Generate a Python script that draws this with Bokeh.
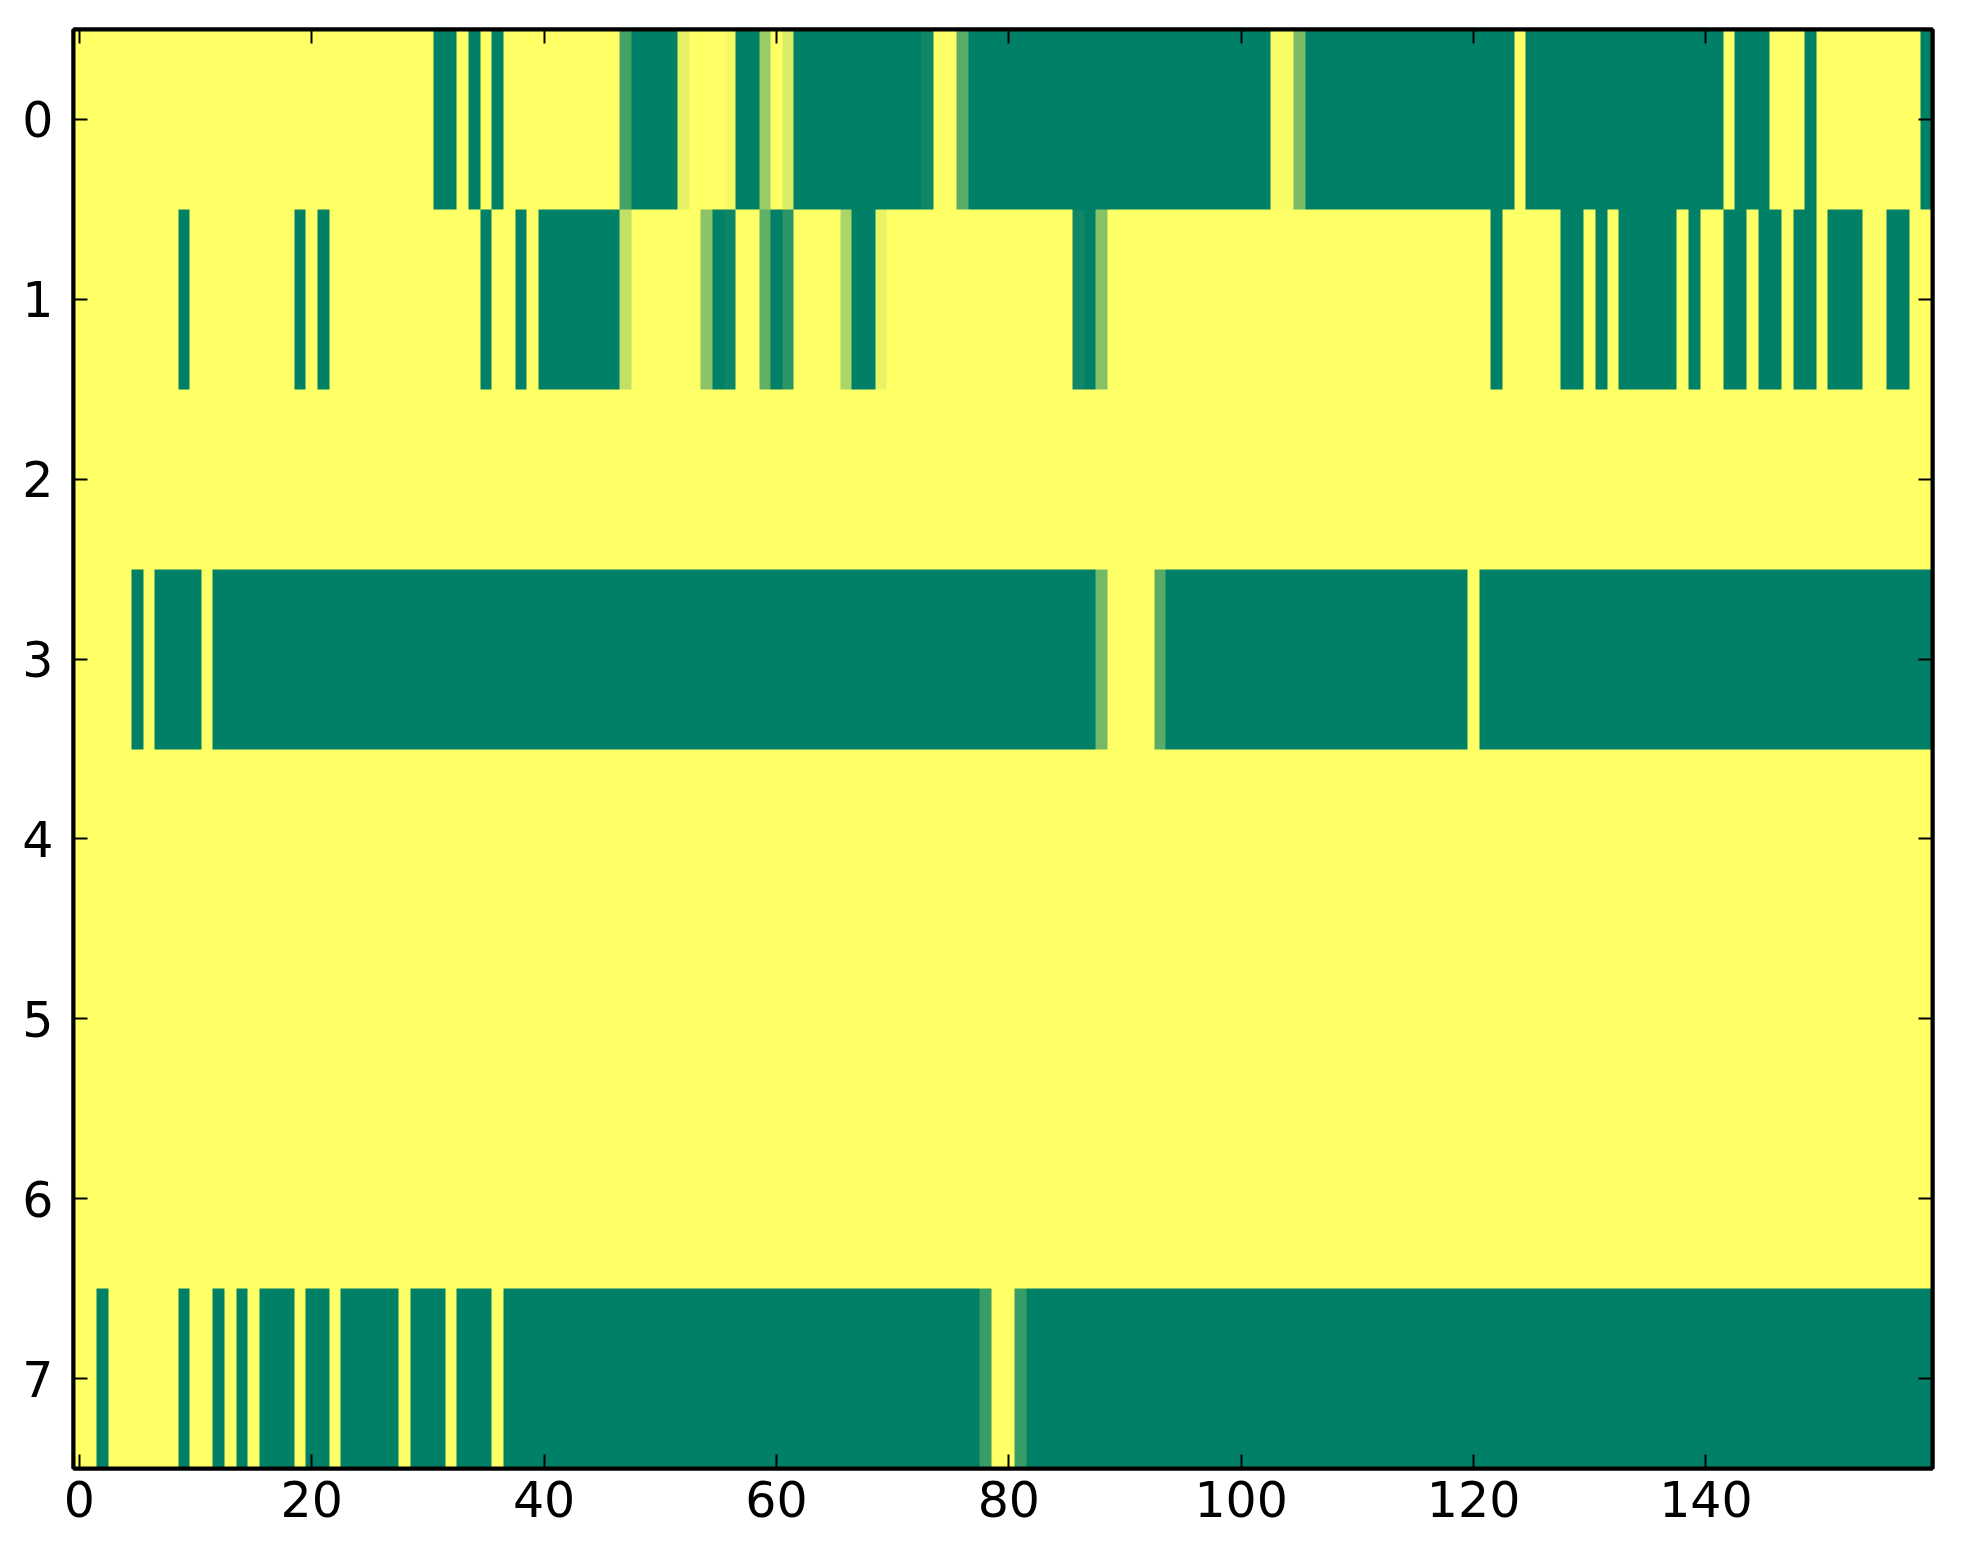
import numpy as np
from bokeh.plotting import figure
from bokeh.models import Range1d, LinearColorMapper, LinearAxis, FixedTicker
from bokeh.embed import file_html
from bokeh.resources import INLINE

# ---------------- data (run-length encoded per row) ----------------
n_cols = 160
row_ticks = [0, 1, 2, 3, 4, 5, 6, 7]
x_ticks = [0, 20, 40, 60, 80, 100, 120, 140]

row0_values = [1, 0, 1, 0, 1, 0, 1, 0.27, 0, 0.9, 1, 0.96, 0, 0.6, 1, 0.85, 0, 0.06, 1, 0.35,
               0, 0.97, 0.47, 0, 1, 0, 1, 0, 1, 0, 1, 0]
row0_runs = [31, 2, 1, 1, 1, 1, 10, 1, 4, 1, 3, 1, 2, 1, 1, 1, 11, 1, 2, 1,
             26, 2, 1, 18, 1, 17, 1, 3, 3, 1, 9, 1]

row1_values = [1, 0, 1, 0, 1, 0, 1, 0, 1, 0, 1, 0, 0.75, 1, 0.54, 0, 0.05, 1, 0.38, 0,
               0.17, 1, 0.67, 0, 0.91, 1, 0.06, 0, 0.53, 1, 0, 1, 0, 1, 0, 1, 0, 1, 0, 1,
               0, 1, 0, 1, 0, 1, 0, 1, 0, 1]
row1_runs = [9, 1, 9, 1, 1, 1, 13, 1, 2, 1, 1, 7, 1, 6, 1, 1, 1, 2, 1, 1,
             1, 4, 1, 2, 1, 16, 1, 1, 1, 33, 1, 5, 2, 1, 1, 1, 5, 1, 1, 2,
             2, 1, 2, 1, 2, 1, 3, 2, 2, 2]

row2_values = [1]
row2_runs = [160]

row3_values = [1, 0, 1, 0, 1, 0, 0.45, 1, 0.35, 0, 1, 0]
row3_runs = [5, 1, 1, 4, 1, 76, 1, 4, 1, 26, 1, 39]

row4_values = [1]
row4_runs = [160]
row5_values = [1]
row5_runs = [160]
row6_values = [1]
row6_runs = [160]

row7_values = [1, 0, 1, 0, 1, 0, 1, 0, 1, 0, 1, 0, 1, 0, 1, 0, 1, 0, 1, 0, 0.22, 1, 0.22, 0]
row7_runs = [2, 1, 6, 1, 2, 1, 1, 1, 1, 3, 1, 2, 1, 5, 1, 3, 1, 3, 1, 41, 1, 2, 1, 78]

rows = [(row0_values, row0_runs), (row1_values, row1_runs), (row2_values, row2_runs),
        (row3_values, row3_runs), (row4_values, row4_runs), (row5_values, row5_runs),
        (row6_values, row6_runs), (row7_values, row7_runs)]

grid = np.vstack([np.repeat(np.array(v, dtype=float), np.array(r)) for v, r in rows])

# matplotlib "summer" colormap
palette = ["#%02x%02x%02x" % (int(round(255 * t)), int(round(255 * (0.5 + 0.5 * t))), 102)
           for t in np.linspace(0, 1, 256)]
mapper = LinearColorMapper(palette=palette, low=0, high=1)

FONT = "DejaVu Sans"
FSIZE = "49px"

p = figure(width=1955, height=1556,
           x_range=Range1d(-0.5, n_cols - 0.5), y_range=Range1d(len(rows) - 0.5, -0.5),
           output_backend="svg", toolbar_location=None,
           min_border_left=73, min_border_top=29, min_border_right=23, min_border_bottom=88)
p.image(image=[grid], x=-0.5, y=-0.5, dw=n_cols, dh=len(rows), color_mapper=mapper)

p.xgrid.visible = False
p.ygrid.visible = False
p.background_fill_color = "white"
p.border_fill_color = "white"
p.outline_line_color = "black"
p.outline_line_width = 4

p.xaxis.ticker = FixedTicker(ticks=x_ticks)
p.yaxis.ticker = FixedTicker(ticks=row_ticks)

right_axis = LinearAxis(ticker=FixedTicker(ticks=row_ticks),
                        major_label_overrides={t: "" for t in row_ticks})
top_axis = LinearAxis(ticker=FixedTicker(ticks=x_ticks),
                      major_label_overrides={t: "" for t in x_ticks})
p.add_layout(right_axis, "right")
p.add_layout(top_axis, "above")

for ax in p.axis:
    ax.axis_line_color = "black"
    ax.axis_line_width = 4
    ax.major_tick_in = 14
    ax.major_tick_out = 0
    ax.major_tick_line_width = 2
    ax.major_tick_line_color = "black"
    ax.minor_tick_line_color = None
    ax.major_label_text_font = FONT
    ax.major_label_text_font_size = FSIZE
    ax.major_label_text_color = "black"

for ax in (right_axis, top_axis):
    ax.major_label_standoff = 0

p.below[0].major_label_standoff = 12
p.left[0].major_label_standoff = 20

open("out.html", "w").write(file_html(p, INLINE))
